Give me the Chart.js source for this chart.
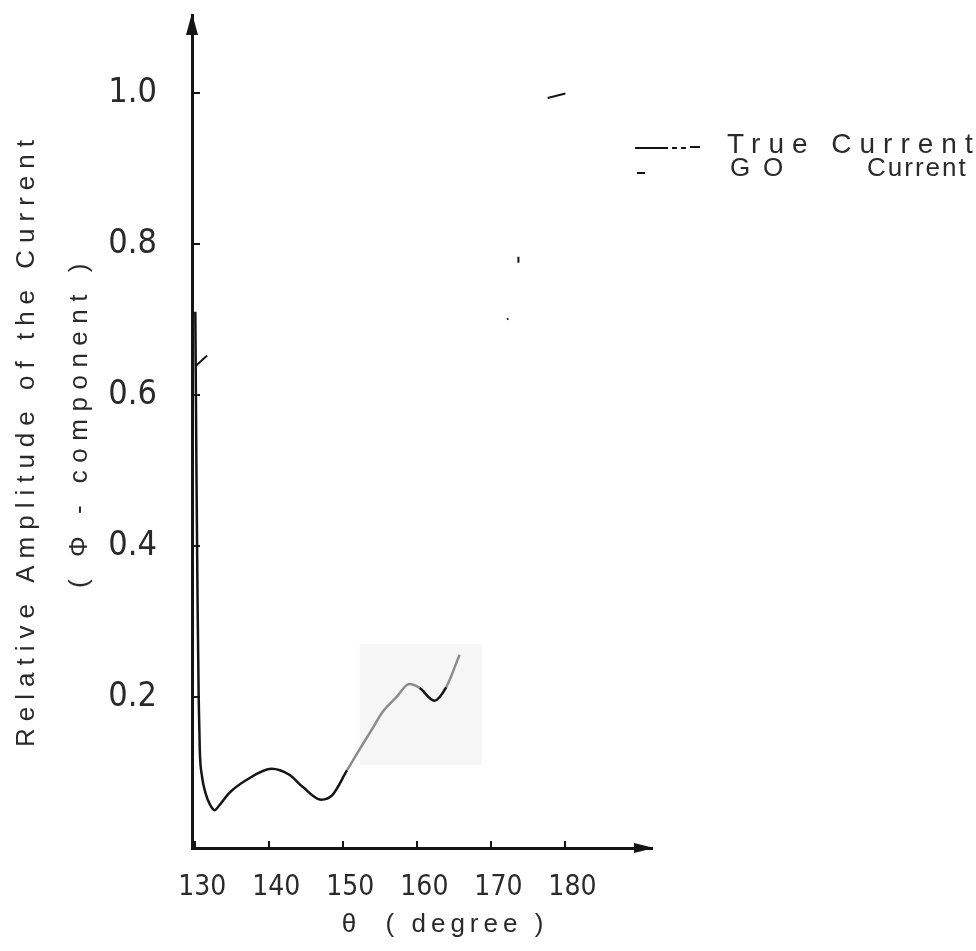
<!DOCTYPE html>
<html>
<head>
<meta charset="utf-8">
<script src="https://cdn.jsdelivr.net/npm/chart.js@4.4.1/dist/chart.umd.min.js"></script>
<style>
  html, body { margin: 0; padding: 0; background: #fff; }
  #wrap { width: 976px; height: 951px; position: relative; }
</style>
</head>
<body>
<div id="wrap"><canvas id="grafico"></canvas></div>
<script>
// dados (theta em graus, amplitude relativa)
const trueTheta = [130.0, 130.15, 130.3, 130.45, 130.6, 130.9, 131.4, 132.0, 132.6, 133.2, 134.6, 136.9, 140.3, 142.7, 144.5, 147.0, 148.5, 150.5, 152.4, 153.8, 155.3, 157.2, 158.9, 160.3, 162.3, 163.9, 165.7];
const trueAmp   = [0.71, 0.50, 0.33, 0.20, 0.13, 0.095, 0.072, 0.057, 0.050, 0.056, 0.073, 0.090, 0.105, 0.097, 0.081, 0.064, 0.070, 0.103, 0.134, 0.156, 0.180, 0.200, 0.217, 0.212, 0.195, 0.213, 0.256];

// GO current: so restam pedacos visiveis no scan (null = falha)
const goTheta = [130.0, 131.6, 131.7, 172.1, 172.3, 172.4, 173.65, 173.65, 173.7, 177.6, 180.0];
const goAmp   = [0.638, 0.652, null, 0.700, 0.701, null, 0.775, 0.783, null, 0.993, 0.999];

const xTicks = [130, 140, 150, 160, 170, 180];
const yTicks = [0.2, 0.4, 0.6, 0.8, 1.0];

const legendLabels = ['True Current', 'G O', 'Current'];
const yTitle = ['Relative Amplitude of the Current', '( \u03A6 - component )'];
const xTitle = '\u03B8  ( degree )';

// trechos do scan que ficaram apagados
const fadedRanges = [[150.5, 160.3], [163.9, 166]];
const scanBox = { x0: 152.2, x1: 168.7, y0: 0.11, y1: 0.27 };

const TINTA = '#141414';
const TEXTO = '#2a2a2a';
const FONTE = "'Liberation Sans Narrow', 'DejaVu Sans Condensed', 'Liberation Sans', sans-serif";

function toXY(xs, ys) {
    return xs.map((x, i) => ({ x: x, y: ys[i] }));
}

function faded(x) {
    return fadedRanges.some(r => x >= r[0] && x < r[1]);
}

// tira o espaco extra que o Chart.js reserva para os rotulos
function semPadding(s) {
    s.paddingTop = 0;
    s.paddingBottom = 0;
    s.paddingLeft = 0;
    s.paddingRight = 0;
}

const papel = {
    id: 'papel',
    beforeDatasetsDraw(chart) {
        const { ctx, scales: { x, y } } = chart;
        ctx.save();
        ctx.fillStyle = '#f6f6f6';
        const px0 = x.getPixelForValue(scanBox.x0), px1 = x.getPixelForValue(scanBox.x1);
        const py0 = y.getPixelForValue(scanBox.y1), py1 = y.getPixelForValue(scanBox.y0);
        ctx.fillRect(px0, py0, px1 - px0, py1 - py0);
        ctx.restore();
    },
    afterDraw(chart) {
        const { ctx, chartArea: a } = chart;
        ctx.save();
        ctx.fillStyle = TINTA;
        ctx.strokeStyle = TINTA;

        // setas dos eixos
        ctx.beginPath();
        ctx.moveTo(a.left, a.top - 2);
        ctx.lineTo(a.left - 6, a.top + 20);
        ctx.lineTo(a.left + 6, a.top + 20);
        ctx.closePath();
        ctx.fill();
        ctx.beginPath();
        ctx.moveTo(a.right + 2, a.bottom);
        ctx.lineTo(a.right - 18, a.bottom - 5);
        ctx.lineTo(a.right - 18, a.bottom + 5);
        ctx.closePath();
        ctx.fill();

        // titulos dos eixos
        ctx.fillStyle = TEXTO;
        ctx.textBaseline = 'middle';
        ctx.textAlign = 'center';
        ctx.font = "26px 'Liberation Sans', sans-serif";
        ctx.letterSpacing = '7px';
        ctx.save();
        ctx.translate(27, 440);
        ctx.rotate(-Math.PI / 2);
        ctx.fillText(yTitle[0], 0, 0);
        ctx.restore();
        ctx.letterSpacing = '7.5px';
        ctx.save();
        ctx.translate(80, 422);
        ctx.rotate(-Math.PI / 2);
        ctx.fillText(yTitle[1], 0, 0);
        ctx.restore();

        ctx.font = "26px 'Liberation Sans', sans-serif";
        ctx.letterSpacing = '5px';
        ctx.fillText(xTitle, 445, 925);

        // legenda
        ctx.textAlign = 'left';
        ctx.lineWidth = 2;
        ctx.beginPath();
        ctx.moveTo(635, 148); ctx.lineTo(668, 148);
        ctx.moveTo(672, 148); ctx.lineTo(677, 148);
        ctx.moveTo(681, 148); ctx.lineTo(686, 148);
        ctx.moveTo(690, 147); ctx.lineTo(700, 147);
        ctx.moveTo(637, 173); ctx.lineTo(645, 173);
        ctx.stroke();

        ctx.font = "28px 'Liberation Sans', sans-serif";
        ctx.letterSpacing = '8px';
        ctx.fillText(legendLabels[0], 727, 145);
        ctx.font = "26px 'Liberation Sans', sans-serif";
        ctx.letterSpacing = '2.8px';
        ctx.fillText(legendLabels[1], 730, 169);
        ctx.letterSpacing = '2px';
        ctx.fillText(legendLabels[2], 867, 169);
        ctx.restore();
    }
};

const grafico = new Chart(document.getElementById('grafico'), {
    type: 'line',
    data: {
        datasets: [
            {
                label: 'True Current',
                data: toXY(trueTheta, trueAmp),
                borderColor: TINTA,
                borderWidth: 2.5,
                pointRadius: 0,
                cubicInterpolationMode: 'monotone',
                segment: {
                    borderColor: c => faded(c.p0.parsed.x) ? '#8c8c8c' : TINTA
                }
            },
            {
                label: 'GO Current',
                data: toXY(goTheta, goAmp),
                borderColor: TINTA,
                borderWidth: 2,
                pointRadius: 0,
                spanGaps: false
            }
        ]
    },
    options: {
        responsive: true,
        maintainAspectRatio: false,
        animation: false,
        devicePixelRatio: 1,
        layout: { padding: { left: 0, right: 324, top: 15, bottom: 0 } },
        plugins: {
            legend: { display: false },
            tooltip: { enabled: false }
        },
        scales: {
            x: {
                type: 'linear',
                min: 129.55,
                max: 191.7,
                afterBuildTicks: s => { s.ticks = xTicks.map(v => ({ value: v })); },
                afterFit: s => { s.height = 103; semPadding(s); },
                grid: { drawOnChartArea: false, tickLength: -7, color: TINTA, lineWidth: 2 },
                border: { color: TINTA, width: 3 },
                ticks: {
                    autoSkip: false,
                    maxRotation: 0,
                    padding: 30,
                    labelOffset: 7,
                    color: TEXTO,
                    font: { family: FONTE, size: 28 },
                    callback: v => String(v)
                }
            },
            y: {
                min: 0,
                max: 1.103,
                afterBuildTicks: s => { s.ticks = yTicks.map(v => ({ value: v })); },
                afterFit: s => { s.width = 192; semPadding(s); },
                grid: { drawOnChartArea: false, tickLength: -8, color: TINTA, lineWidth: 2 },
                border: { color: TINTA, width: 3 },
                ticks: {
                    padding: 43,
                    color: TEXTO,
                    font: { family: FONTE, size: 34 },
                    callback: v => v.toFixed(1)
                }
            }
        }
    },
    plugins: [papel]
});
</script>
</body>
</html>
